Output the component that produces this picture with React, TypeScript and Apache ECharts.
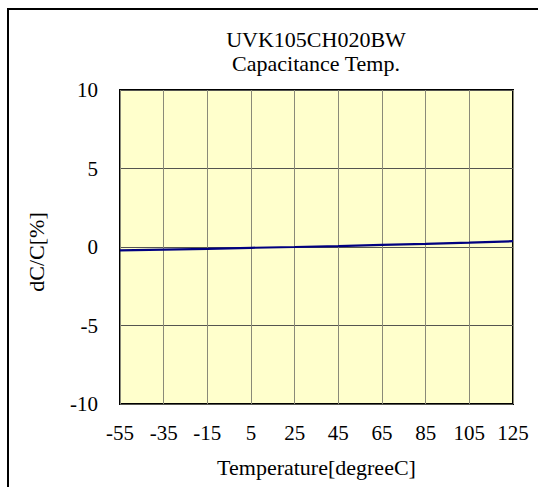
import React, { useEffect, useRef } from "react";
import * as echarts from "echarts";

const temperatures = ["-55", "-35", "-15", "5", "25", "45", "65", "85", "105", "125"];
const dcValues = [-0.22, -0.17, -0.12, -0.05, 0, 0.06, 0.13, 0.2, 0.28, 0.37];
const yMin = -10;
const yMax = 10;
const yInterval = 5;

export default function App() {
  const ref = useRef<HTMLDivElement>(null);
  useEffect(() => {
    if (!ref.current) return;
    const chart = echarts.init(ref.current, undefined, { renderer: "svg" });
    const font = "serif";
    const tickFs = 21;
    const nameFs = 22;
    chart.setOption({
      animation: false,
      backgroundColor: "#ffffff",
      textStyle: { fontFamily: font },
      title: {
        text: "UVK105CH020BW\nCapacitance Temp.",
        left: 316,
        textAlign: "center",
        top: 27,
        padding: 0,
        textStyle: { fontFamily: font, fontSize: nameFs, fontWeight: "normal", color: "#000", lineHeight: 24 },
      },
      graphic: [
        {
          type: "rect",
          shape: { x: 8, y: 9, width: 560, height: 520 },
          style: { fill: "none", stroke: "#000", lineWidth: 2 },
          silent: true,
        },
      ],
      grid: {
        left: 120,
        top: 90,
        width: 393,
        height: 314,
        show: true,
        backgroundColor: "#FFFFCC",
        borderColor: "#000",
        borderWidth: 2,
      },
      xAxis: {
        type: "category",
        data: temperatures,
        boundaryGap: false,
        name: "Temperature[degreeC]",
        nameLocation: "middle",
        nameGap: 52,
        nameTextStyle: { fontFamily: font, fontSize: nameFs, color: "#000" },
        axisLine: { show: false },
        axisTick: { show: false },
        axisLabel: { fontFamily: font, fontSize: tickFs, color: "#000", margin: 18, interval: 0 },
        splitLine: { show: true, lineStyle: { color: "#8a8a78", width: 1 } },
      },
      yAxis: {
        type: "value",
        min: yMin,
        max: yMax,
        interval: yInterval,
        name: "dC/C[%]",
        nameLocation: "middle",
        nameGap: 73,
        nameTextStyle: { fontFamily: font, fontSize: nameFs, color: "#000", padding: [0, 10, 0, 0] },
        axisLine: { show: false },
        axisTick: { show: false },
        axisLabel: { fontFamily: font, fontSize: tickFs, color: "#000", margin: 22 },
        splitLine: { show: true, lineStyle: { color: "#555550", width: 1 } },
      },
      series: [
        {
          type: "line",
          data: dcValues,
          showSymbol: false,
          symbol: "none",
          lineStyle: { color: "#000080", width: 2.2 },
          z: 3,
        },
      ],
    });
    return () => chart.dispose();
  }, []);
  return <div ref={ref} style={{ position: "fixed", left: 0, top: 0, width: 538, height: 487 }} />;
}
